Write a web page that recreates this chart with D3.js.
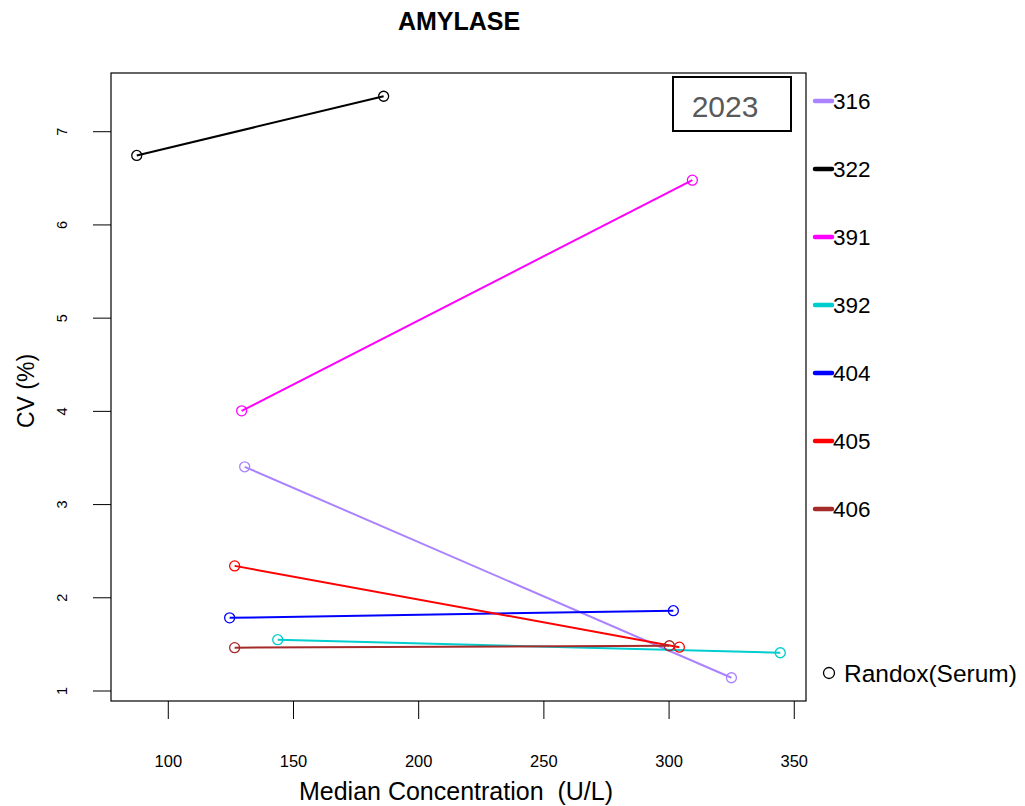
<!DOCTYPE html>
<html>
<head>
<meta charset="utf-8">
<script src="https://cdn.jsdelivr.net/npm/d3@7"></script>
<style>
  body { margin: 0; background: #fff; }
  svg { font-family: "Liberation Sans", Arial, sans-serif; }
</style>
</head>
<body>
<svg id="chart"></svg>
<script>
// lab codes and their colours
var labs = ["316", "322", "391", "392", "404", "405", "406"];
var labColors = ["#AB82FF", "#000000", "#FF00FF", "#00CDCD", "#0000FF", "#FF0000", "#A52A2A"];
// low / high level, median concentration (U/L) and CV (%)
var xLow = [130.7, 87.6, 129.5, 143.9, 124.7, 126.7, 126.7];
var yLow = [3.40, 6.74, 4.00, 1.545, 1.78, 2.337, 1.46];
var xHigh = [325.1, 186.2, 309.5, 344.6, 301.9, 304.3, 300.3];
var yHigh = [1.137, 7.375, 6.475, 1.405, 1.856, 1.465, 1.48];
var xTicks = [100, 150, 200, 250, 300, 350];
var yTicks = [1, 2, 3, 4, 5, 6, 7];

var width = 1025, height = 806;
var box = { left: 111, right: 806, top: 73, bottom: 701 };

var svg = d3.select("#chart").attr("width", width).attr("height", height);

// R style 4% padding around data
function padded(vals) {
  var lo = d3.min(vals), hi = d3.max(vals), p = (hi - lo) * 0.04;
  return [lo - p, hi + p];
}
var xscale = d3.scaleLinear().domain(padded(xLow.concat(xHigh))).range([box.left, box.right]);
var yscale = d3.scaleLinear().domain(padded(yLow.concat(yHigh))).range([box.bottom, box.top]);

svg.append("text")
  .attr("x", 459).attr("y", 30)
  .attr("text-anchor", "middle")
  .style("font-size", "25px").style("font-weight", "bold")
  .text("AMYLASE");

// axes
var xaxis = d3.axisBottom(xscale).tickValues(xTicks).tickSize(18).tickPadding(36);
svg.append("g")
  .attr("transform", "translate(0," + box.bottom + ")")
  .call(xaxis)
  .call(function (g) {
    g.select(".domain").remove();
    g.selectAll("line").attr("stroke", "#000");
    g.selectAll("text").style("font-size", "16.5px").attr("fill", "#000");
  });

var yaxis = d3.axisLeft(yscale).tickValues(yTicks).tickSize(18).tickFormat(d3.format("d"));
var yg = svg.append("g")
  .attr("transform", "translate(" + box.left + ",0)")
  .call(yaxis);
yg.select(".domain").remove();
yg.selectAll("line").attr("stroke", "#000");
yg.selectAll("text").remove();
yg.selectAll(".tick").append("text")
  .attr("transform", "translate(-49,0) rotate(-90)")
  .attr("text-anchor", "middle")
  .attr("dy", "0.35em")
  .attr("fill", "#000")
  .style("font-size", "14.5px")
  .text(function (d) { return d; });

svg.append("rect")
  .attr("x", box.left).attr("y", box.top)
  .attr("width", box.right - box.left).attr("height", box.bottom - box.top)
  .attr("fill", "none").attr("stroke", "#000").attr("stroke-width", 1.2);

svg.append("text")
  .attr("x", 456).attr("y", 800)
  .attr("text-anchor", "middle")
  .style("font-size", "25px")
  .style("white-space", "pre")
  .text("Median Concentration  (U/L)");

svg.append("text")
  .attr("transform", "translate(34,391) rotate(-90)")
  .attr("text-anchor", "middle")
  .style("font-size", "23px")
  .text("CV (%)");

// 2023 box
svg.append("rect")
  .attr("x", 673).attr("y", 77).attr("width", 118).attr("height", 54)
  .attr("fill", "#fff").attr("stroke", "#000").attr("stroke-width", 2);
svg.append("text")
  .attr("x", 725).attr("y", 117)
  .attr("text-anchor", "middle")
  .attr("fill", "#595959")
  .style("font-size", "30px")
  .text("2023");

// series
var rows = labs.map(function (lab, i) {
  return { lab: lab, color: labColors[i], pts: [[xLow[i], yLow[i]], [xHigh[i], yHigh[i]]] };
});
var line = d3.line()
  .x(function (d) { return xscale(d[0]); })
  .y(function (d) { return yscale(d[1]); });

var series = svg.selectAll(".series").data(rows).enter().append("g").attr("class", "series");
series.append("path")
  .attr("d", function (d) { return line(d.pts); })
  .attr("fill", "none")
  .attr("stroke", function (d) { return d.color; })
  .attr("stroke-width", 2);
series.selectAll("circle")
  .data(function (d) { return d.pts.map(function (p) { return { p: p, color: d.color }; }); })
  .enter().append("circle")
  .attr("cx", function (d) { return xscale(d.p[0]); })
  .attr("cy", function (d) { return yscale(d.p[1]); })
  .attr("r", 5)
  .attr("fill", "none")
  .attr("stroke", function (d) { return d.color; })
  .attr("stroke-width", 1.3);

// legend
var legend = svg.selectAll(".leg").data(rows).enter().append("g")
  .attr("transform", function (d, i) { return "translate(815," + (101 + i * 68) + ")"; });
legend.append("line")
  .attr("x1", 0).attr("x2", 17)
  .attr("stroke", function (d) { return d.color; })
  .attr("stroke-width", 4.5)
  .attr("stroke-linecap", "round");
legend.append("text")
  .attr("x", 18).attr("dy", "0.36em")
  .style("font-size", "22.5px")
  .text(function (d) { return d.lab; });

svg.append("circle")
  .attr("cx", 829).attr("cy", 673).attr("r", 5.5)
  .attr("fill", "none").attr("stroke", "#000").attr("stroke-width", 1.3);
svg.append("text")
  .attr("x", 844).attr("y", 673).attr("dy", "0.36em")
  .style("font-size", "24.5px")
  .text("Randox(Serum)");
</script>
</body>
</html>
